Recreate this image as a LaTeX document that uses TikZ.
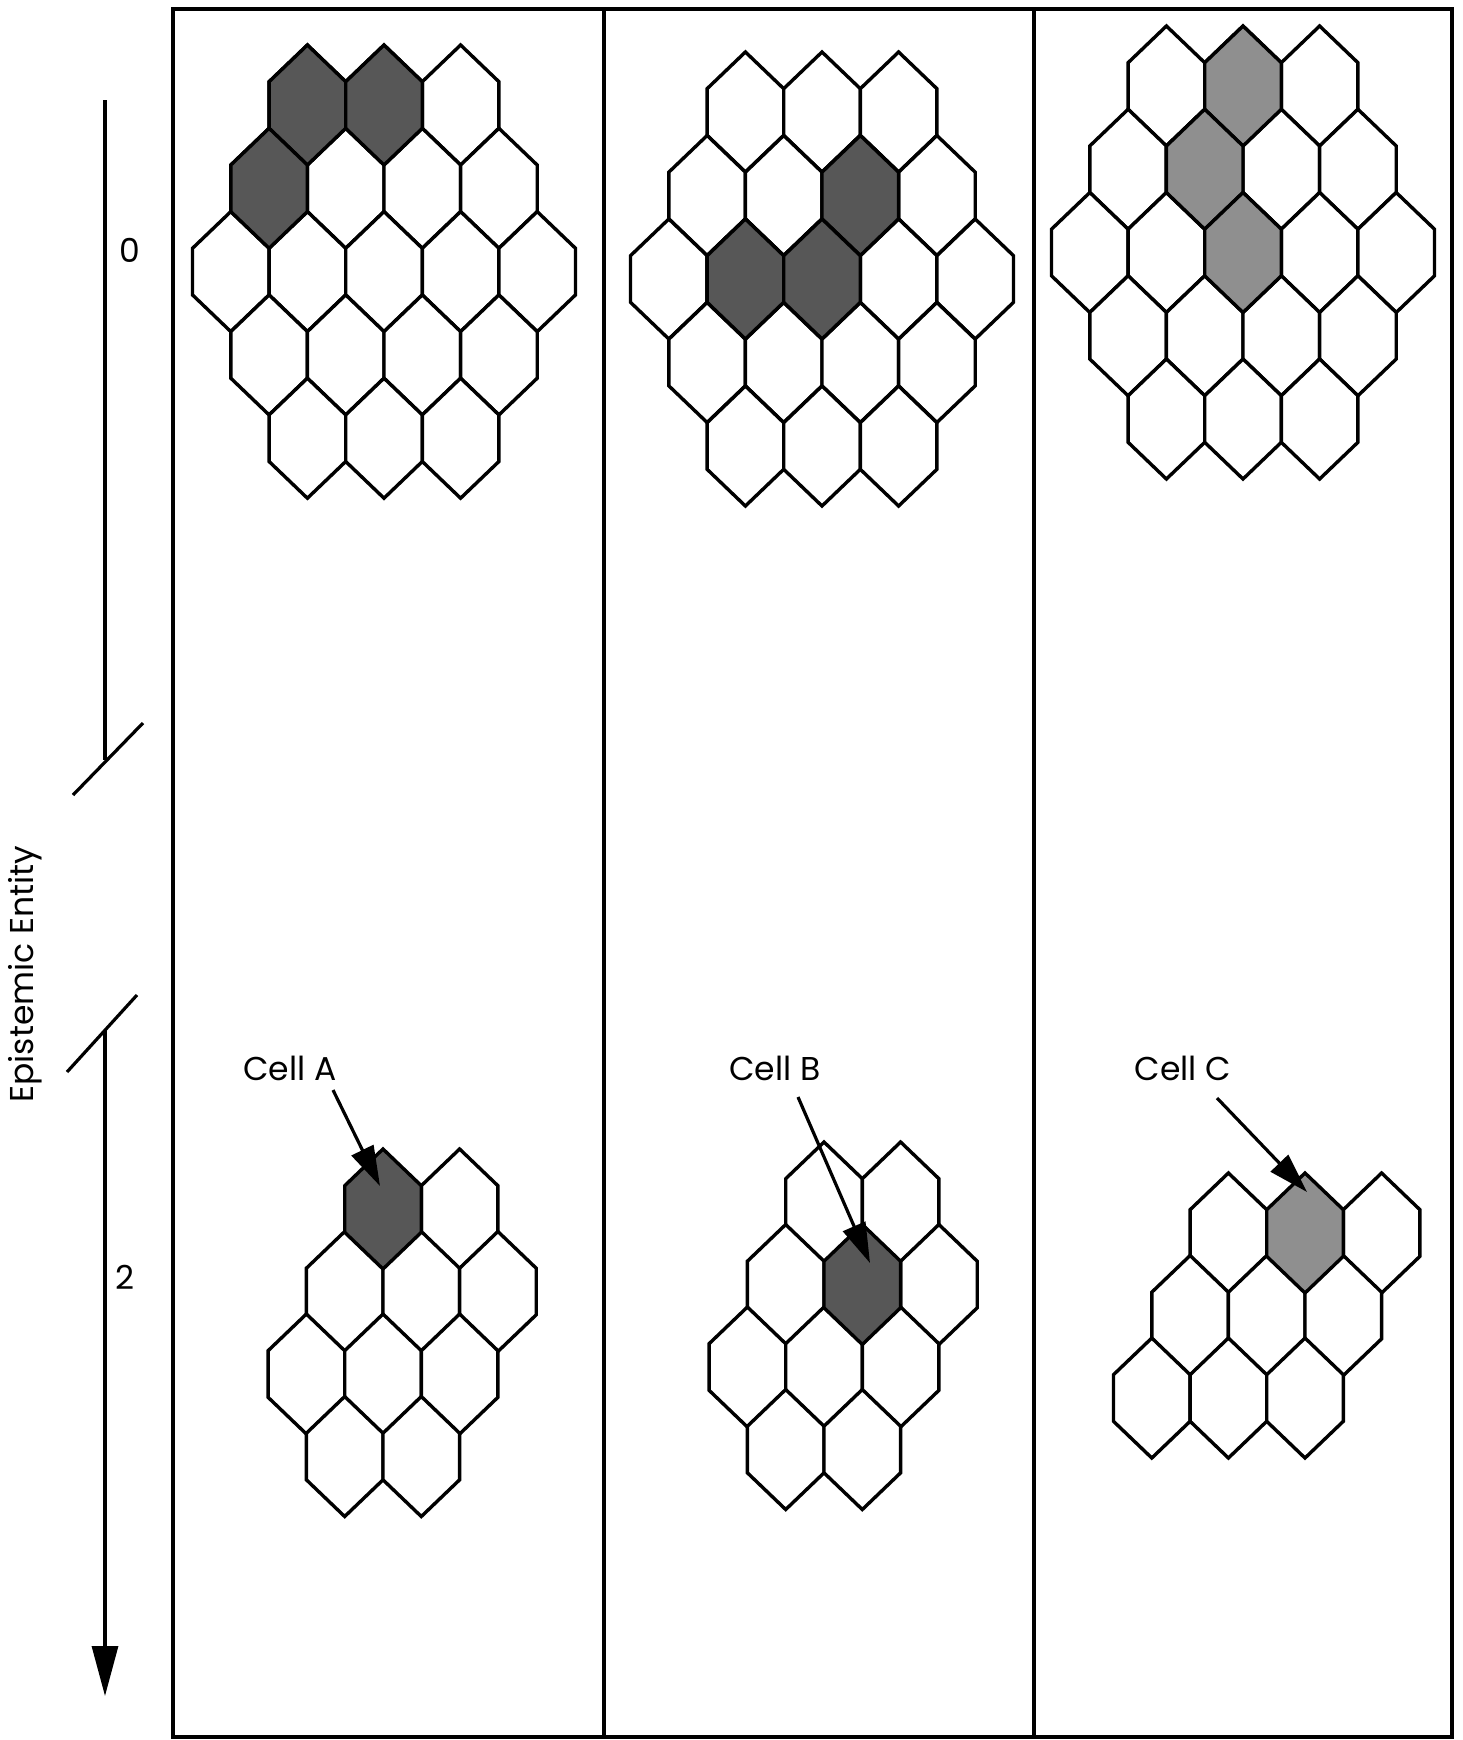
\documentclass[tikz,border=0pt]{standalone}
\usepackage{fontspec}
\setmainfont{Poppins}
\usetikzlibrary{arrows.meta}
\tikzset{
  hexline/.style={line width=3.4pt, line join=miter, draw=black},
  frameline/.style={line width=3.2pt},
  ptr/.style={line width=3.2pt, -{Triangle[length=40pt,width=24pt]}},
  axisline/.style={line width=3.2pt},
  lbl/.style={font=\fontsize{33}{36}\selectfont, inner sep=0pt},
}
\colorlet{darkcell}{black!66}
\colorlet{lightcell}{black!44}
\newcommand{\hexcell}[3]{\draw[hexline,fill=#3] ({#1},{#2-60}) -- ++(38.3,36.7) -- ++(0,46.6) -- ++(-38.3,36.7) -- ++(-38.3,-36.7) -- ++(0,-46.6) -- cycle;}
\newcommand{\hexgrid}[3]{%
  \foreach \n [count=\r from 0] in {3,4,5,4,3}{%
    \foreach \k in {1,...,\n}{%
      \hexcell{#1+(\k-(\n+1)/2)*76.6}{#2+\r*#3}{white}%
    }%
  }%
}
\newcommand{\hexlist}[4]{\foreach \u/\r in {#3}{\hexcell{#1+\u*38.3}{#2+\r*82.5}{#4}}}
\begin{document}
\begin{tikzpicture}[x=1pt,y=-1pt]
\useasboundingbox (0,0) rectangle (1462,1740);
\fill[white] (0,0) rectangle (1462,1740);
% frame
\draw[frameline] (173,9) rectangle (1452,1737);
\draw[frameline] (604,9) -- (604,1737);
\draw[frameline] (1034,9) -- (1034,1737);
% top grids
\hexgrid{384}{105}{83.3}
\hexcell{307.4}{105}{darkcell}
\hexcell{384}{105}{darkcell}
\hexcell{269.1}{188.3}{darkcell}
\hexgrid{822}{112}{83.5}
\hexcell{860.3}{195.5}{darkcell}
\hexcell{745.4}{279}{darkcell}
\hexcell{822}{279}{darkcell}
\hexgrid{1243}{86}{83.25}
\hexcell{1243}{86}{lightcell}
\hexcell{1204.7}{169.25}{lightcell}
\hexcell{1243}{252.5}{lightcell}
% bottom grids
\hexlist{383}{1209}{2/0,-1/1,1/1,3/1,-2/2,0/2,2/2,-1/3,1/3}{white}
\hexcell{383}{1209}{darkcell}
\hexlist{824}{1202}{0/0,2/0,-1/1,3/1,-2/2,0/2,2/2,-1/3,1/3}{white}
\hexcell{862.3}{1284.5}{darkcell}
\hexlist{1305}{1233}{-2/0,2/0,-3/1,-1/1,1/1,-4/2,-2/2,0/2}{white}
\hexcell{1305}{1233}{lightcell}
% labels and arrows
\node[lbl] (cellA) at (290,1068) {Cell A};
\node[lbl] (cellB) at (775,1068) {Cell B};
\node[lbl] (cellC) at (1183,1068) {Cell C};
\coordinate (srcA) at (333,1090);
\coordinate (tipA) at (380,1186);
\coordinate (srcB) at (798,1097);
\coordinate (tipB) at (870,1263);
\coordinate (srcC) at (1217,1098);
\coordinate (tipC) at (1307,1192);
\draw[ptr] (srcA) -- (tipA);
\draw[ptr] (srcB) -- (tipB);
\draw[ptr] (srcC) -- (tipC);
% axis
\coordinate (axTop) at (105,100);
\coordinate (axBreakA) at (105,760);
\coordinate (slashAa) at (73,795);
\coordinate (slashAb) at (143,723);
\coordinate (slashBa) at (67,1072);
\coordinate (slashBb) at (137,995);
\coordinate (axBreakB) at (105,1030);
\coordinate (axEnd) at (105,1696);
\draw[axisline] (axTop) -- (axBreakA);
\draw[axisline] (slashAa) -- (slashAb);
\draw[axisline] (slashBa) -- (slashBb);
\draw[axisline, -{Triangle[length=50pt,width=26pt]}] (axBreakB) -- (axEnd);
\node[lbl] (levZero) at (130,250) {0};
\node[lbl] (levTwo) at (125,1277) {2};
\node[lbl, rotate=90, anchor=base] (axLabel) at (33,974) {Epistemic Entity};
\end{tikzpicture}
\end{document}
